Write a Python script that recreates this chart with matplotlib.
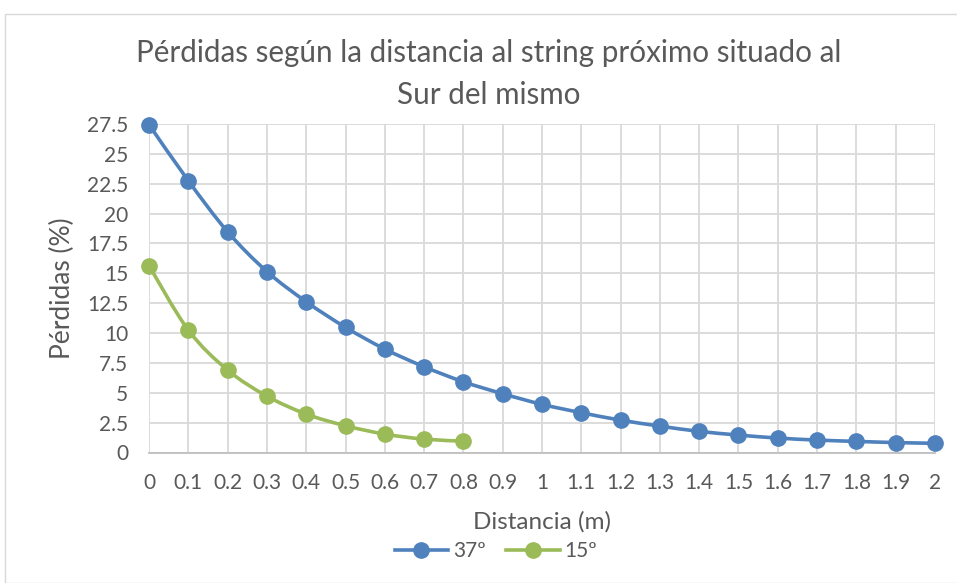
import matplotlib
matplotlib.use("Agg")
import matplotlib.pyplot as plt
import numpy as np
from matplotlib.path import Path
from matplotlib.patches import PathPatch, Rectangle
from matplotlib.lines import Line2D

plt.rcParams['font.family'] = ['Lato', 'DejaVu Sans']

title = "Pérdidas según la distancia al string próximo situado al\nSur del mismo"
x_label = "Distancia (m)"
y_label = "Pérdidas (%)"
x37 = [0, 0.1, 0.2, 0.3, 0.4, 0.5, 0.6, 0.7, 0.8, 0.9, 1.0, 1.1, 1.2, 1.3, 1.4, 1.5, 1.6, 1.7, 1.8, 1.9, 2.0]
y37 = [27.45, 22.75, 18.48, 15.15, 12.62, 10.48, 8.66, 7.18, 5.92, 4.92, 4.03, 3.33, 2.71, 2.21, 1.77, 1.46, 1.21, 1.04, 0.93, 0.83, 0.77]
x15 = [0, 0.1, 0.2, 0.3, 0.4, 0.5, 0.6, 0.7, 0.8]
y15 = [15.64, 10.25, 6.90, 4.72, 3.22, 2.24, 1.54, 1.12, 0.95]
series_names = ["37º", "15º"]
colors = ["#4F81BD", "#9BBB59"]
x_ticks = [round(0.1 * i, 1) for i in range(21)]
x_ticklabels = ["0", "0.1", "0.2", "0.3", "0.4", "0.5", "0.6", "0.7", "0.8", "0.9", "1",
                "1.1", "1.2", "1.3", "1.4", "1.5", "1.6", "1.7", "1.8", "1.9", "2"]
y_ticks = [2.5 * i for i in range(12)]
y_ticklabels = ["0", "2.5", "5", "7.5", "10", "12.5", "15", "17.5", "20", "22.5", "25", "27.5"]

W, H = 957, 583
fig = plt.figure(figsize=(W / 100, H / 100), dpi=100)
# outer chart border
fig.patches.append(Rectangle((5 / W, 0.0), 1.2, (H - 14) / H, transform=fig.transFigure,
                             fill=False, edgecolor="#D9D9D9", linewidth=1))

left, right, bottom, top = 149, 935, 452.5, 124
ax = fig.add_axes([left / W, 1 - bottom / H, (right - left) / W, (bottom - top) / H])
ax.set_xlim(0, 2)
ax.set_ylim(0, 27.5)
ax.set_xticks(x_ticks)
ax.set_xticklabels(x_ticklabels)
ax.set_yticks(y_ticks)
ax.set_yticklabels(y_ticklabels)
ax.grid(True, color="#D9D9D9", linewidth=1.3)
ax.set_axisbelow(True)
for s in ["top", "right", "left"]:
    ax.spines[s].set_visible(False)
ax.spines["bottom"].set_color("#BFBFBF")
ax.spines["bottom"].set_linewidth(1.3)
ax.tick_params(length=0, labelsize=15, colors="#595959")
ax.tick_params(axis="x", pad=15)
ax.tick_params(axis="y", pad=15)


def smooth_path(xs, ys, t=1 / 6):
    pts = np.column_stack([xs, ys])
    verts = [pts[0]]
    codes = [Path.MOVETO]
    n = len(pts)
    for i in range(n - 1):
        p0 = pts[i - 1] if i > 0 else pts[i]
        p1 = pts[i]
        p2 = pts[i + 1]
        p3 = pts[i + 2] if i + 2 < n else pts[i + 1]
        c1 = p1 + (p2 - p0) * t
        c2 = p2 - (p3 - p1) * t
        verts += [c1, c2, p2]
        codes += [Path.CURVE4] * 3
    return Path(verts, codes)


for xs, ys, c in [(x37, y37, colors[0]), (x15, y15, colors[1])]:
    ax.add_patch(PathPatch(smooth_path(xs, ys), facecolor="none", edgecolor=c,
                           linewidth=2.6, capstyle="round", zorder=3))
    ax.plot(xs, ys, linestyle="none", marker="o", markersize=11, color=c, zorder=4,
            clip_on=False)

ax.set_xlabel(x_label, fontsize=17.5, color="#595959")
ax.set_ylabel(y_label, fontsize=19, color="#595959")
fig.text(489 / W, 1 - 74 / H, title, ha="center", va="center", fontsize=21.3,
         color="#595959", linespacing=1.6)

handles = [Line2D([], [], color=colors[0], marker="o", markersize=11, linewidth=2.6),
           Line2D([], [], color=colors[1], marker="o", markersize=11, linewidth=2.6)]
fig.legend(handles, series_names, loc="center", bbox_to_anchor=(496 / W, 1 - 551 / H),
           ncol=2, frameon=False, fontsize=15, labelcolor="#595959",
           handlelength=2.55, columnspacing=1.0, handletextpad=0.25,
           borderpad=0, borderaxespad=0)

ax.yaxis.set_label_coords((62 - left) / (right - left), 0.5)
ax.yaxis.label.set_verticalalignment("center")
ax.xaxis.set_label_coords(0.5, -(522 - bottom) / (bottom - top))
ax.xaxis.label.set_verticalalignment("center")

fig.savefig("out.png", dpi=100, facecolor="white")
